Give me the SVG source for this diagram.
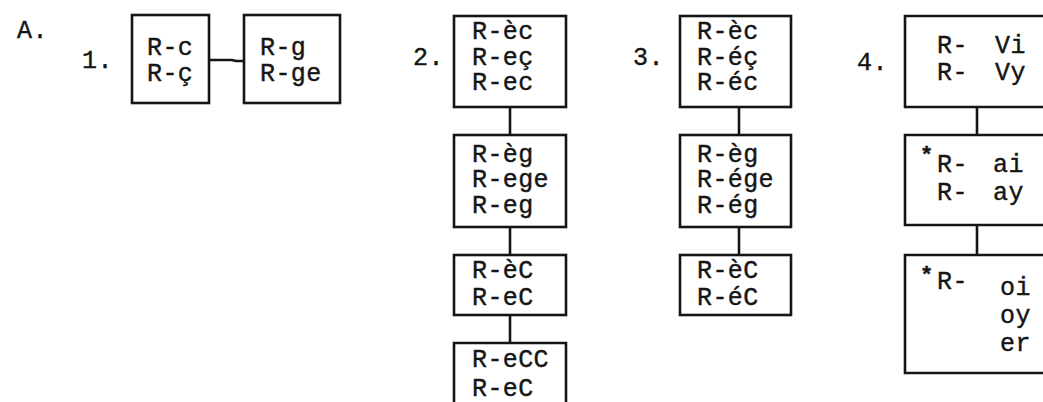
<svg xmlns="http://www.w3.org/2000/svg" width="1043" height="402" viewBox="0 0 1043 402">
<style>
.b{fill:none;stroke:#151515;stroke-width:2.6;stroke-linejoin:miter}
.c{fill:none;stroke:#151515;stroke-width:2.6}
text{font-family:"Liberation Mono","Courier New",monospace;font-size:25px;fill:#151515;stroke:#151515;stroke-width:0.4;letter-spacing:0.4px}
.s{font-size:22px;font-weight:bold}
</style>
<rect width="1043" height="402" fill="#ffffff"/>
<g id="labels">
<text x="17" y="38">A.</text>
<text x="82" y="68">1.</text>
<text x="413" y="65">2.</text>
<text x="633" y="65">3.</text>
<text x="857" y="70">4.</text>
</g>
<g id="connectors">
<path class="c" d="M209,60 H232 L236,61 H244"/>
<path class="c" d="M510,107 V135 M510,227 V255 M510,315 V343"/>
<path class="c" d="M739,107 V135 M739,227 V255"/>
<path class="c" d="M977,107 V135 M977,225 V255"/>
</g>
<g id="n1a">
<rect class="b" x="132" y="15" width="77" height="88"/>
<text x="147" y="55">R-c</text>
<text x="147" y="81">R-ç</text>
</g>
<g id="n1b">
<rect class="b" x="244" y="15" width="96" height="88"/>
<text x="260" y="55">R-g</text>
<text x="260" y="81">R-ge</text>
</g>
<g id="n2a">
<rect class="b" x="454" y="16" width="112" height="91"/>
<text x="472" y="39">R-èc</text>
<text x="472" y="65">R-eç</text>
<text x="472" y="90">R-ec</text>
</g>
<g id="n2b">
<rect class="b" x="454" y="135" width="112" height="92"/>
<text x="472" y="162">R-èg</text>
<text x="472" y="187">R-ege</text>
<text x="472" y="213">R-eg</text>
</g>
<g id="n2c">
<rect class="b" x="454" y="255" width="112" height="60"/>
<text x="472" y="278">R-èC</text>
<text x="472" y="305">R-eC</text>
</g>
<g id="n2d">
<path class="b" d="M454,404 V343 H566 V404"/>
<text x="472" y="367">R-eCC</text>
<text x="472" y="396">R-eC</text>
</g>
<g id="n3a">
<rect class="b" x="680" y="16" width="111" height="91"/>
<text x="697" y="39">R-èc</text>
<text x="697" y="65">R-éç</text>
<text x="697" y="90">R-éc</text>
</g>
<g id="n3b">
<rect class="b" x="680" y="135" width="111" height="92"/>
<text x="697" y="162">R-èg</text>
<text x="697" y="187">R-ége</text>
<text x="697" y="213">R-ég</text>
</g>
<g id="n3c">
<rect class="b" x="680" y="255" width="111" height="60"/>
<text x="697" y="278">R-èC</text>
<text x="697" y="305">R-éC</text>
</g>
<g id="n4a">
<path class="b" d="M1046,16 H905 V107 H1046"/>
<text x="937" y="53">R-</text>
<text x="995" y="53">Vi</text>
<text x="937" y="80">R-</text>
<text x="995" y="80">Vy</text>
</g>
<g id="n4b">
<path class="b" d="M1046,135 H905 V225 H1046"/>
<text class="s" x="920" y="162">*</text>
<text x="937" y="172">R-</text>
<text x="993" y="172">ai</text>
<text x="937" y="200">R-</text>
<text x="993" y="200">ay</text>
</g>
<g id="n4c">
<path class="b" d="M1046,255 H905 V373 H1046"/>
<text class="s" x="920" y="282">*</text>
<text x="937" y="289">R-</text>
<text x="1000" y="295">oi</text>
<text x="1000" y="323">oy</text>
<text x="1000" y="351">er</text>
</g>
</svg>
